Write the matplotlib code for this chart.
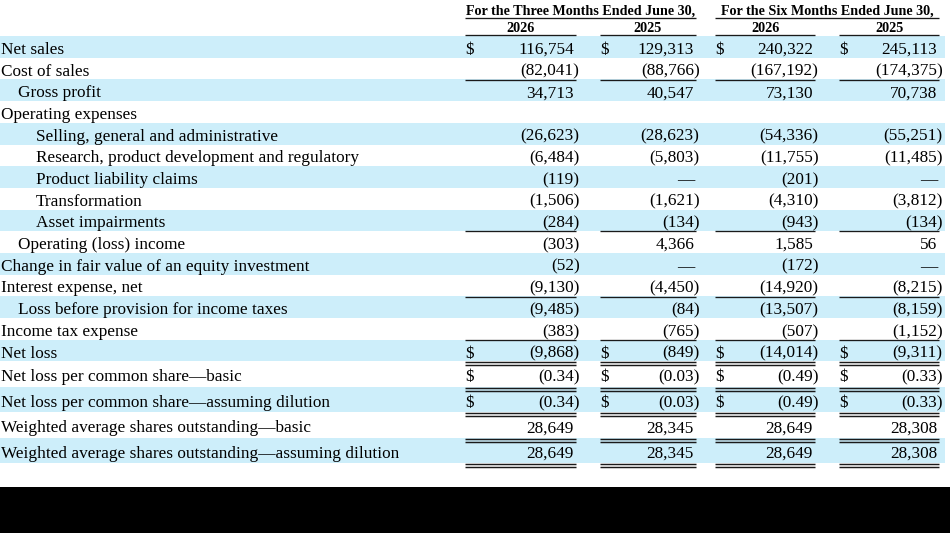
import matplotlib
matplotlib.use("Agg")
import matplotlib.pyplot as plt
from matplotlib.patches import Rectangle

# ---- data -------------------------------------------------------------
labels = [
    "Net sales",
    "Cost of sales",
    "Gross profit",
    "Operating expenses",
    "Selling, general and administrative",
    "Research, product development and regulatory",
    "Product liability claims",
    "Transformation",
    "Asset impairments",
    "Operating (loss) income",
    "Change in fair value of an equity investment",
    "Interest expense, net",
    "Loss before provision for income taxes",
    "Income tax expense",
    "Net loss",
    "Net loss per common share\u2014basic",
    "Net loss per common share\u2014assuming dilution",
    "Weighted average shares outstanding\u2014basic",
    "Weighted average shares outstanding\u2014assuming dilution",
]
indent = [0, 0, 1, 0, 2, 2, 2, 2, 2, 1, 0, 0, 1, 0, 0, 0, 0, 0, 0]

# None = blank cell, 0 = dash
three_2026 = [116754, -82041, 34713, None, -26623, -6484, -119, -1506, -284, -303,
              -52, -9130, -9485, -383, -9868, -0.34, -0.34, 28649, 28649]
three_2025 = [129313, -88766, 40547, None, -28623, -5803, 0, -1621, -134, 4366,
              0, -4450, -84, -765, -849, -0.03, -0.03, 28345, 28345]
six_2026 = [240322, -167192, 73130, None, -54336, -11755, -201, -4310, -943, 1585,
            -172, -14920, -13507, -507, -14014, -0.49, -0.49, 28649, 28649]
six_2025 = [245113, -174375, 70738, None, -55251, -11485, 0, -3812, -134, 56,
            0, -8215, -8159, -1152, -9311, -0.33, -0.33, 28308, 28308]

group_titles = ["For the Three Months Ended June 30,", "For the Six Months Ended June 30,"]
years = ["2026", "2025", "2026", "2025"]

dollar_rows = {0, 14, 15, 16}
eps_rows = {15, 16}
single_rule = {1, 8, 11, 13}
double_rule = {14, 15, 16, 17, 18}

# ---- layout (pixel space) --------------------------------------------
W, H = 950, 533
BAND = "#CDEEFA"
INK = "#000000"
RULE = "#1a1a1a"
col_x0 = [465, 600, 715, 839]
col_x1 = [576, 696, 815, 939]
num_right = [574, 694, 813, 937]
row_h = [21.7] * 15 + [25.5] * 4
base_off = [17.8] * 15 + [20.0] * 4
top0 = 36.0
PAREN = 5.6

plt.rcParams["font.family"] = ["Liberation Serif", "DejaVu Serif"]
fig = plt.figure(figsize=(9.5, 5.33), dpi=100)
ax = fig.add_axes([0, 0, 1, 1])
ax.set_xlim(0, W)
ax.set_ylim(H, 0)
ax.axis("off")

BODY = 12.4
HEAD = 10.2


def fmt(v, eps):
    if v is None:
        return None
    if v == 0:
        return "\u2014", False
    s = f"{abs(v):.2f}" if eps else f"{abs(v):,}"
    return ("(" + s + ")", True) if v < 0 else (s, False)


def rule(y, x0, x1, lw=0.95):
    ax.plot([x0, x1], [y, y], color=RULE, lw=lw, solid_capstyle="butt")


# header
for (a, b), title in zip([(0, 1), (2, 3)], group_titles):
    xa, xb = col_x0[a], col_x1[b]
    ax.text((xa + xb) / 2, 14.5, title, ha="center", va="baseline",
            fontsize=HEAD, fontweight="bold", color=INK)
    rule(17.5, xa, xb)
for i, yr in enumerate(years):
    ax.text((col_x0[i] + col_x1[i]) / 2, 32, yr, ha="center", va="baseline",
            fontsize=HEAD, fontweight="bold", color=INK)
    rule(35, col_x0[i], col_x1[i])

columns = [three_2026, three_2025, six_2026, six_2025]
y = top0
for r, lab in enumerate(labels):
    h = row_h[r]
    if r % 2 == 0:
        ax.add_patch(Rectangle((0, y), 945, h, facecolor=BAND, edgecolor="none", zorder=0))
    yb = y + base_off[r]
    ax.text(1 + indent[r] * 17.5, yb, lab, ha="left", va="baseline",
            fontsize=BODY, color=INK)
    for c, col in enumerate(columns):
        cell = fmt(col[r], r in eps_rows)
        if cell is None:
            continue
        txt, neg = cell
        xr = num_right[c] + (PAREN if neg else 0)
        ax.text(xr, yb, txt, ha="right", va="baseline", fontsize=BODY, color=INK)
        if r in dollar_rows:
            ax.text(col_x0[c], yb, "$", ha="left", va="baseline", fontsize=BODY, color=INK)
        if r in single_rule:
            rule(y + h + 0.2, col_x0[c], col_x1[c])
        if r in double_rule:
            rule(y + h + 1.0, col_x0[c], col_x1[c], lw=1.05)
            rule(y + h + 3.6, col_x0[c], col_x1[c], lw=1.05)
    y += h

# black strip at the bottom of the crop
ax.add_patch(Rectangle((0, 487), W, H - 487, facecolor="black", edgecolor="none"))

fig.savefig("out.png", dpi=100)
